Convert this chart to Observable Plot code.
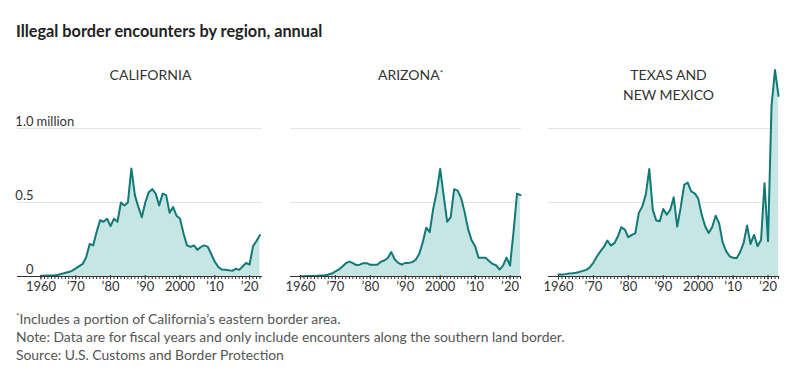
<!DOCTYPE html>
<html><head><meta charset="utf-8">
<script src="https://cdn.jsdelivr.net/npm/d3@7"></script>
<script src="https://cdn.jsdelivr.net/npm/@observablehq/plot@0.6"></script>
<style>
body{margin:0;background:#fff;font-family:Lato, "Noto Sans", sans-serif;}
#wrap{position:relative;width:795px;height:375px;overflow:hidden;}
.title{position:absolute;left:16px;top:21px;font-weight:bold;font-size:16.3px;line-height:20px;color:#222;}
.notes{position:absolute;left:16px;top:310px;font-size:13.9px;color:#555;line-height:18.2px;}
.notes sup{font-size:8px;vertical-align:5px;line-height:0;}
.panel{position:absolute;top:50px;}
</style></head><body>
<div id="wrap">
  <div class="title">Illegal border encounters by region, annual</div>
  <div class="panel" id="ca"></div>
  <div class="panel" id="az"></div>
  <div class="panel" id="tx"></div>
  <div class="notes"><sup>*</sup>Includes a portion of California’s eastern border area.<br>Note: Data are for fiscal years and only include encounters along the southern land border.<br>Source: U.S. Customs and Border Protection</div>
</div>
<script>
const years = [1960,1961,1962,1963,1964,1965,1966,1967,1968,1969,1970,1971,1972,1973,1974,1975,1976,1977,1978,1979,1980,1981,1982,1983,1984,1985,1986,1987,1988,1989,1990,1991,1992,1993,1994,1995,1996,1997,1998,1999,2000,2001,2002,2003,2004,2005,2006,2007,2008,2009,2010,2011,2012,2013,2014,2015,2016,2017,2018,2019,2020,2021,2022,2023];

// encounters, millions
const california = [0.005,0.005,0.006,0.007,0.009,0.012,0.018,0.025,0.03,0.04,0.055,0.07,0.085,0.13,0.22,0.21,0.30,0.38,0.37,0.39,0.34,0.39,0.37,0.50,0.48,0.50,0.73,0.55,0.47,0.40,0.50,0.57,0.59,0.56,0.48,0.56,0.55,0.43,0.47,0.41,0.39,0.29,0.21,0.20,0.21,0.18,0.20,0.21,0.20,0.15,0.10,0.065,0.047,0.045,0.043,0.038,0.052,0.045,0.068,0.092,0.08,0.205,0.24,0.28];
const arizona = [0.002,0.002,0.003,0.003,0.004,0.005,0.006,0.007,0.013,0.02,0.035,0.047,0.068,0.09,0.10,0.09,0.077,0.08,0.09,0.09,0.079,0.079,0.08,0.10,0.108,0.125,0.165,0.115,0.092,0.08,0.092,0.092,0.097,0.113,0.153,0.23,0.33,0.30,0.457,0.57,0.727,0.547,0.37,0.40,0.59,0.58,0.53,0.435,0.32,0.245,0.205,0.126,0.126,0.126,0.105,0.085,0.076,0.047,0.074,0.128,0.074,0.30,0.56,0.55];
const texasNewMexico = [0.013,0.013,0.016,0.02,0.022,0.025,0.031,0.038,0.045,0.063,0.094,0.135,0.17,0.20,0.243,0.209,0.225,0.27,0.333,0.317,0.265,0.281,0.292,0.43,0.474,0.553,0.726,0.45,0.378,0.373,0.456,0.418,0.45,0.535,0.337,0.467,0.62,0.634,0.575,0.562,0.528,0.418,0.34,0.294,0.333,0.411,0.36,0.231,0.171,0.137,0.126,0.124,0.164,0.225,0.344,0.22,0.281,0.205,0.247,0.63,0.238,1.153,1.396,1.22];

const panelTitles = ["CALIFORNIA", "ARIZONA*", "TEXAS AND\nNEW MEXICO"];
const decadeTicks = [1960,1970,1980,1990,2000,2010,2020];
const decadeLabels = ["1960","’70","’80","’90","2000","’10","’20"];
const yTicks = [0, 0.5, 1.0];
const yTickLabels = ["0", "0.5", "1.0"];

const FONT = "Lato, 'Noto Sans', sans-serif";
const LINE = "#117a77";
const FILL = "#c6e5e4";

function panel(el, values, title, opts) {
  const data = years.map((year, i) => ({year, value: values[i]}));
  const xDomain = d3.extent(years);
  const marks = [
    Plot.areaY(data, {x: "year", y: "value", fill: FILL, curve: "linear"}),
    Plot.ruleY([0.5, 1.0], {stroke: "#d9d9d9", strokeOpacity: 0.75}),
    Plot.lineY(data, {x: "year", y: "value", stroke: LINE, strokeWidth: 2, strokeLinejoin: "round"}),
    Plot.ruleY([0], {stroke: "#333", strokeWidth: 1}),
    Plot.axisX({ticks: years, tickSize: 3, tickFormat: () => "", stroke: "#333", label: null}),
    Plot.axisX({ticks: decadeTicks, tickSize: 4.5, tickPadding: 2, stroke: "#333", label: null,
      tickFormat: d => decadeLabels[decadeTicks.indexOf(d)], fontSize: 13, fill: "#333", dy: -1}),
    Plot.text([title], {x: () => (xDomain[0] + xDomain[1]) / 2, frameAnchor: "top", lineAnchor: "top",
      dy: 15, fontSize: 14, fill: "#333", lineHeight: 1.45})
  ];
  if (opts.yLabels) {
    marks.push(
      Plot.text(yTicks, {y: d => d, text: (d, i) => yTickLabels[i], frameAnchor: "left", textAnchor: "end",
        dx: 16, dy: -7, fontSize: 13, fill: "#333"}),
      Plot.text([1.0], {y: d => d, text: () => "million", frameAnchor: "left", textAnchor: "start",
        dx: 19, dy: -7, fontSize: 13, fill: "#333"})
    );
  }
  const chart = Plot.plot({
    width: opts.width, height: 250,
    marginLeft: opts.marginLeft, marginRight: opts.marginRight, marginTop: 0, marginBottom: 24,
    x: {domain: xDomain, range: opts.xRange, axis: null, label: null},
    y: {domain: [0, 1], range: [226, 78], axis: null, label: null},
    style: {fontFamily: FONT, overflow: "visible", background: "transparent"},
    marks
  });
  // small raised asterisk in panel title
  d3.select(chart).selectAll("text").each(function() {
    const t = d3.select(this);
    if (t.text() === "ARIZONA*") {
      t.text("ARIZONA");
      t.append("tspan").attr("font-size", 8).attr("dy", -4).text("*");
    }
  });
  const host = document.getElementById(el);
  host.style.left = opts.left + "px";
  host.appendChild(chart);
}

panel("ca", california, panelTitles[0], {left: 0, width: 265, marginLeft: 17, marginRight: 3, xRange: [40.5, 259.5], yLabels: true});
panel("az", arizona, panelTitles[1], {left: 280, width: 245, marginLeft: 10, marginRight: 4, xRange: [20, 240]});
panel("tx", texasNewMexico, panelTitles[2], {left: 538, width: 245, marginLeft: 10, marginRight: 4, xRange: [20, 240]});
</script>
</body></html>
